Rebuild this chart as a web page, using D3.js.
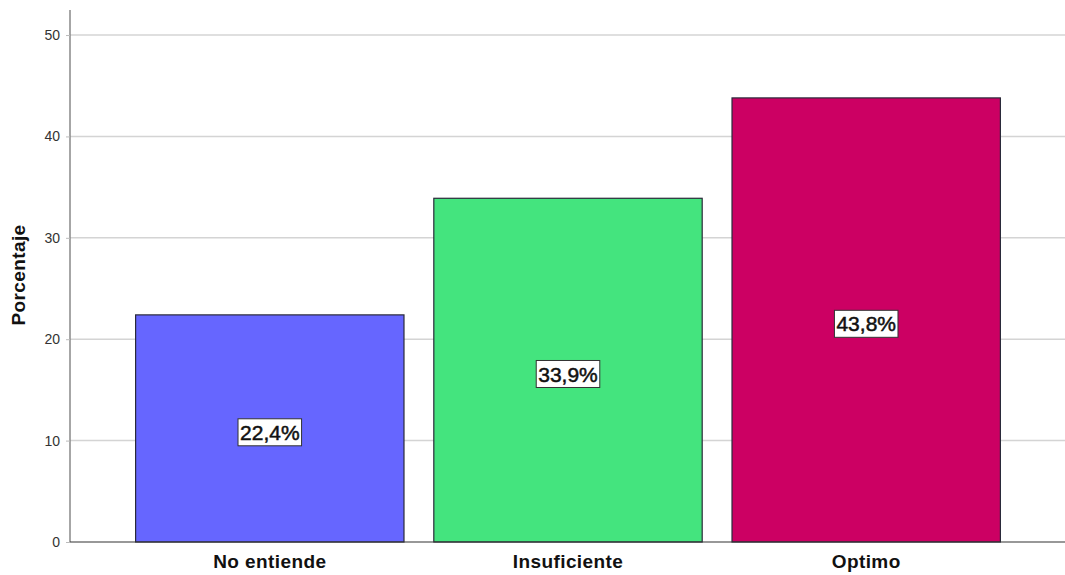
<!DOCTYPE html>
<html>
<head>
<meta charset="utf-8">
<script src="https://cdn.jsdelivr.net/npm/d3@7"></script>
<style>
  body { margin: 0; background: #fff; }
  svg { font-family: Arial, "Liberation Sans", sans-serif; }
</style>
</head>
<body>
<div id="chart"></div>
<script>
const categories = ["No entiende", "Insuficiente", "Optimo"];
const values = [22.4, 33.9, 43.8];
const colors = ["#6666ff", "#44e47e", "#cc0063"];
const yTicks = [0, 10, 20, 30, 40, 50];

const width = 1065, height = 575;
const margin = { left: 70, right: 0, top: 10, bottom: 33 };

const svg = d3.select("#chart")
  .append("svg")
  .attr("width", width)
  .attr("height", height);

const xScale = d3.scaleBand()
  .domain(categories)
  .range([margin.left, 1066])
  .paddingInner(0.1)
  .paddingOuter(0.22);

const yScale = d3.scaleLinear()
  .domain([0, 52.47])
  .range([height - margin.bottom, margin.top]);

// grid lines
svg.append("g")
  .selectAll("line")
  .data(yTicks.filter(d => d > 0))
  .enter()
  .append("line")
  .attr("x1", margin.left)
  .attr("x2", width)
  .attr("y1", d => yScale(d))
  .attr("y2", d => yScale(d))
  .attr("stroke", "#d4d4d4")
  .attr("stroke-width", 1.5);

// bars
svg.append("g")
  .selectAll("rect")
  .data(values)
  .enter()
  .append("rect")
  .attr("x", (d, i) => xScale(categories[i]))
  .attr("y", d => yScale(d))
  .attr("width", xScale.bandwidth())
  .attr("height", d => yScale(0) - yScale(d))
  .attr("fill", (d, i) => colors[i])
  .attr("stroke", "#2a2a3a")
  .attr("stroke-width", 1.2);

// y axis
const yAxis = svg.append("g")
  .attr("transform", `translate(${margin.left},0)`)
  .call(d3.axisLeft(yScale).tickValues(yTicks).tickSize(4).tickPadding(6));
yAxis.select(".domain").attr("stroke", "#888").attr("stroke-width", 1.5)
  .attr("d", `M0,${yScale(0)}V${margin.top}`);
yAxis.selectAll(".tick line").attr("stroke", "#bbb");
yAxis.selectAll(".tick text").attr("font-size", 14).attr("fill", "#333")
  .attr("font-family", "Arial, sans-serif");

// x axis
const xAxis = svg.append("g")
  .attr("transform", `translate(0,${yScale(0)})`)
  .call(d3.axisBottom(xScale).tickSize(0).tickPadding(13));
xAxis.select(".domain").attr("stroke", "#333").attr("stroke-width", 1.2)
  .attr("d", `M${margin.left},0H${width}`);
xAxis.selectAll(".tick text")
  .attr("font-size", 19)
  .attr("font-weight", "bold")
  .attr("letter-spacing", 0.4)
  .attr("fill", "#111")
  .attr("font-family", "Arial, sans-serif");

// y axis title
svg.append("text")
  .attr("transform", "translate(25,275) rotate(-90)")
  .attr("text-anchor", "middle")
  .attr("font-size", 19)
  .attr("font-weight", "bold")
  .attr("letter-spacing", 0.4)
  .attr("fill", "#111")
  .text("Porcentaje");

// value labels
const labels = svg.append("g")
  .selectAll("g")
  .data(values)
  .enter()
  .append("g")
  .attr("transform", (d, i) =>
    `translate(${xScale(categories[i]) + xScale.bandwidth() / 2},${yScale(d / 2) + 4})`);

labels.append("text")
  .attr("text-anchor", "middle")
  .attr("dy", "0.35em")
  .attr("font-size", 21)
  .attr("fill", "#111")
  .attr("stroke", "#111")
  .attr("stroke-width", 0.5)
  .text(d => d.toFixed(1).replace(".", ",") + "%")
  .each(function() {
    const b = this.getBBox();
    d3.select(this.parentNode)
      .insert("rect", "text")
      .attr("x", b.x - 2)
      .attr("y", b.y - 2)
      .attr("width", b.width + 4)
      .attr("height", b.height + 4)
      .attr("fill", "#fff")
      .attr("stroke", "#333")
      .attr("stroke-width", 1);
  });
</script>
</body>
</html>
